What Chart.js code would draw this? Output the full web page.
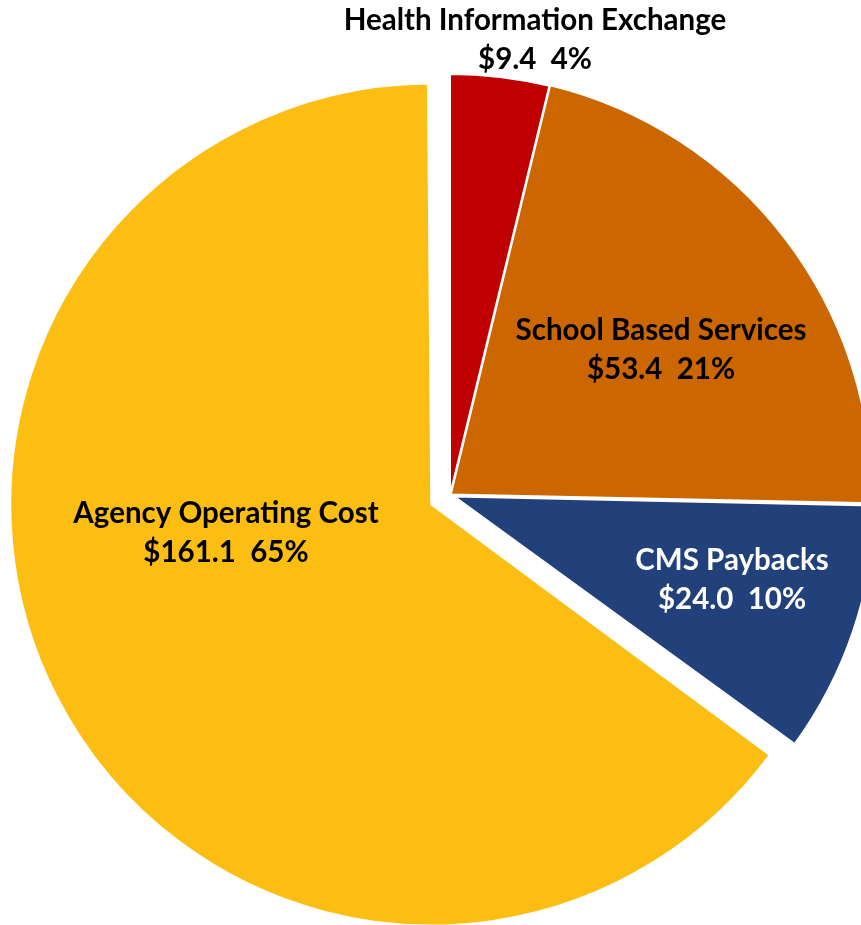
<!DOCTYPE html>
<html lang="en">
<head>
  <meta charset="UTF-8" />
  <title>Budget Breakdown</title>
  <script src="https://cdn.jsdelivr.net/npm/chart.js"></script>
  <style>
    html, body { margin: 0; padding: 0; background: #fff; overflow: hidden; }
    .wrap { position: relative; width: 861px; height: 925px; }
  </style>
</head>
<body>
  <div class="wrap"><canvas id="pie"></canvas></div>

  <script>
    // spending by area, $ millions (clockwise from 12 o'clock)
    const categories = ['Health Information Exchange', 'School Based Services', 'CMS Paybacks', 'Agency Operating Cost'];
    const amounts = [9.4, 53.4, 24.0, 161.1];
    const percents = [4, 21, 10, 65];

    const sliceColors = ['#C00000', '#CC6600', '#22407A', '#FCBE12'];
    const textColors = ['#000', '#000', '#fff', '#000'];
    // how far each slice is pulled out (chart.js offset units: px * 4)
    const pullOut = [0, 4, 18, 84];
    // where each two-line label sits: [center x, first baseline]
    const labelSpots = [[535, 30], [661, 340], [732, 570], [226, 523]];
    const lineGap = 39;

    // chart.js grows a pulled slice's radius; keep all slices the same size
    const sameRadius = {
      id: 'sameRadius',
      beforeDatasetsDraw(chart) {
        const meta = chart.getDatasetMeta(0);
        const r = meta.controller.outerRadius;
        meta.data.forEach(arc => {
          const shift = (arc.options.offset || 0) / 4;
          const fix = 1 - Math.sin(Math.min(Math.PI, arc.circumference));
          arc.outerRadius = r - shift * fix;
        });
      }
    };

    const sliceLabels = {
      id: 'sliceLabels',
      afterDatasetsDraw(chart) {
        const ctx = chart.ctx;
        ctx.save();
        ctx.font = 'bold 29.5px Lato';
        ctx.textAlign = 'center';
        ctx.textBaseline = 'alphabetic';
        categories.forEach((name, i) => {
          const [x, y] = labelSpots[i];
          ctx.fillStyle = textColors[i];
          ctx.fillText(name, x, y);
          ctx.fillText('$' + amounts[i].toFixed(1) + '  ' + percents[i] + '%', x, y + lineGap);
        });
        ctx.restore();
      }
    };

    new Chart(document.getElementById('pie'), {
      type: 'pie',
      data: {
        labels: categories,
        datasets: [{
          data: amounts,
          backgroundColor: sliceColors,
          borderColor: '#fff',
          borderWidth: 2,
          offset: pullOut,
          hoverOffset: 0,
          clip: false
        }]
      },
      options: {
        responsive: true,
        maintainAspectRatio: false,
        animation: false,
        radius: 421,
        layout: { padding: { left: 39, right: 0, top: 65, bottom: 0 } },
        plugins: {
          legend: { display: false },
          tooltip: { enabled: false }
        },
        events: []
      },
      plugins: [sameRadius, sliceLabels]
    });
  </script>
</body>
</html>
